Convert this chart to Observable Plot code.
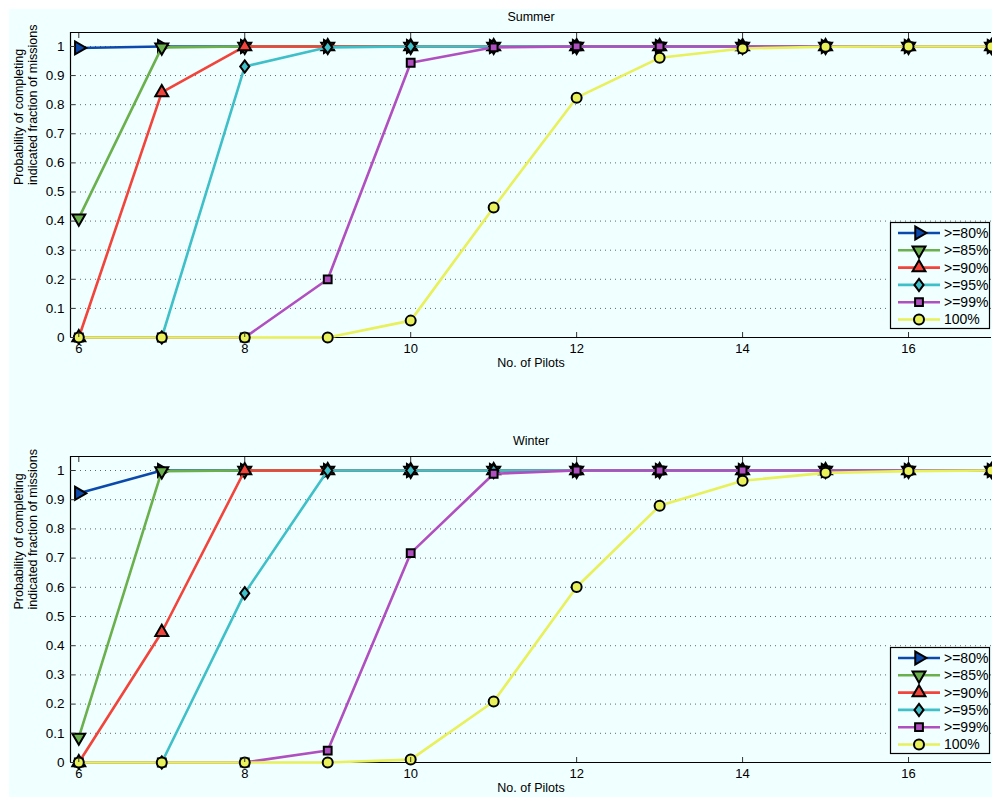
<!DOCTYPE html>
<html><head><meta charset="utf-8">
<script src="https://cdn.jsdelivr.net/npm/d3@7"></script>
<script src="https://cdn.jsdelivr.net/npm/@observablehq/plot@0.6"></script>
<style>
body{margin:0;background:#fff;}
#wrap{position:relative;width:992px;height:797px;overflow:hidden;font-family:"Liberation Sans",Arial,sans-serif;}
#bg{position:absolute;left:9px;top:9px;right:0;bottom:0;background:#f0ffff;}
.p{position:absolute;left:0;}
.p svg{background:transparent !important;}
</style></head><body><div id="wrap"><div id="bg"></div></div>
<script>
const pilots = [6,7,8,9,10,11,12,13,14,15,16,17];
const seriesNames = [">=80%", ">=85%", ">=90%", ">=95%", ">=99%", "100%"];
const xTicks = [6,8,10,12,14,16];
const yTicks = [0,0.1,0.2,0.3,0.4,0.5,0.6,0.7,0.8,0.9,1];

// Summer
const summer80  = [0.995,1,1,1,1,1,1,1,1,1,1,1];
const summer85  = [0.41,0.997,1,1,1,1,1,1,1,1,1,1];
const summer90  = [0,0.842,1,1,1,1,1,1,1,1,1,1];
const summer95  = [0,0,0.931,0.997,1,1,1,1,1,1,1,1];
const summer99  = [0,0,0,0.2,0.944,0.997,1,1,1,1,1,1];
const summer100 = [0,0,0,0,0.058,0.447,0.824,0.961,0.993,0.999,1,1];

// Winter
const winter80  = [0.922,1,1,1,1,1,1,1,1,1,1,1];
const winter85  = [0.086,0.998,1,1,1,1,1,1,1,1,1,1];
const winter90  = [0,0.446,1,1,1,1,1,1,1,1,1,1];
const winter95  = [0,0,0.58,1,1,1,1,1,1,1,1,1];
const winter99  = [0,0,0,0.041,0.717,0.989,1,1,1,1,1,1];
const winter100 = [0,0,0,0,0.01,0.209,0.601,0.879,0.965,0.992,0.998,1];

const colors = ["#0b4aac", "#6ab04c", "#f2443a", "#3fbfc8", "#b04fbf", "#e8f05a"];

const sqrt3 = Math.sqrt(3);
function tri(angle){
  return {draw(ctx, size){
    const y = -Math.sqrt(size / (sqrt3 * 3));
    const pts = [[0, y*2], [-sqrt3*y, -y], [sqrt3*y, -y]];
    const c = Math.cos(angle), s = Math.sin(angle);
    pts.forEach(([px,py],k) => {
      const X = px*c - py*s, Y = px*s + py*c;
      k ? ctx.lineTo(X,Y) : ctx.moveTo(X,Y);
    });
    ctx.closePath();
  }};
}
const diamond = {draw(ctx, size){
  const h = Math.sqrt(size / 1.5), w = h * 0.75;
  ctx.moveTo(0, -h); ctx.lineTo(w, 0); ctx.lineTo(0, h); ctx.lineTo(-w, 0); ctx.closePath();
}};
const symbols = [tri(Math.PI/2), tri(Math.PI), tri(0), diamond, d3.symbolSquare, d3.symbolCircle];
const radii = [4.8, 4.8, 4.8, 4.2, 4.4, 5];

const xDomain = [5.9, 17];
const yDomain = [0, 1.048];
const FONT = "'Liberation Sans', Arial, sans-serif";

function panel(title, vals, top, marginBottom, legendTop){
  const marks = [
    Plot.gridY({ticks: yTicks, stroke: "#555", strokeOpacity: 0.9, strokeDasharray: "1,4"}),
    Plot.ruleY([yDomain[0], yDomain[1]], {stroke: "black", strokeWidth: 1.2}),
    Plot.ruleX([xDomain[0]], {stroke: "black", strokeWidth: 1.2})
  ];
  vals.forEach((v, i) => {
    const data = pilots.map((x, j) => ({x, y: v[j]}));
    marks.push(Plot.line(data, {x: "x", y: "y", stroke: colors[i], strokeWidth: 2.6}));
    marks.push(Plot.dot(data, {x: "x", y: "y", symbol: symbols[i], r: radii[i], fill: colors[i], stroke: "black", strokeWidth: 2}));
  });
  marks.push(
    Plot.axisX({ticks: xTicks, anchor: "bottom", tickSize: 5, dy: -5, tickFormat: () => "", label: null, stroke: "#333"}),
    Plot.axisX({ticks: xTicks, anchor: "top", tickSize: 5, dy: 5, tickFormat: () => "", label: null, stroke: "#333"}),
    Plot.axisX({ticks: xTicks, anchor: "bottom", tickSize: 0, tickPadding: 6, label: null, fontSize: 13, tickFormat: d => `${d}`}),
    Plot.axisY({ticks: yTicks, anchor: "left", tickSize: 5, dx: 5, tickFormat: () => "", label: null, stroke: "#333"}),
    Plot.axisY({ticks: yTicks, anchor: "left", tickSize: 0, tickPadding: 6, label: null, fontSize: 13.5, tickFormat: d => `${d}`}),
    Plot.text([title], {frameAnchor: "top", dy: -20, fontSize: 12.5, fill: "black"}),
    Plot.text(["No. of Pilots"], {frameAnchor: "bottom", dy: 29, fontSize: 12.5, fill: "black"}),
    Plot.text(["Probability of completing\nindicated fraction of missions"], {frameAnchor: "left", dx: -45, rotate: -90, fontSize: 12.5, fill: "black", lineHeight: 1.15})
  );
  const chart = Plot.plot({
    width: 992, height: 373,
    marginLeft: 70, marginRight: 1, marginTop: 32, marginBottom,
    style: {background: "transparent", fontFamily: FONT, fontSize: "12px", color: "black", overflow: "visible"},
    x: {domain: xDomain},
    y: {domain: yDomain},
    marks
  });
  const div = document.createElement("div");
  div.className = "p";
  div.style.top = top + "px";
  div.appendChild(chart);
  document.getElementById("wrap").appendChild(div);

  // legend
  const lg = d3.create("svg").attr("width", 992).attr("height", 140)
    .style("position", "absolute").style("left", "0px").style("top", (legendTop) + "px").style("overflow", "visible");
  lg.append("rect").attr("x", 890.5).attr("y", 0.5).attr("width", 99).attr("height", 106)
    .attr("fill", "#f0ffff").attr("stroke", "black").attr("stroke-width", 1.2);
  seriesNames.forEach((name, i) => {
    const cy = 11 + i * 17.3;
    lg.append("line").attr("x1", 898).attr("x2", 940).attr("y1", cy).attr("y2", cy)
      .attr("stroke", colors[i]).attr("stroke-width", 2.6);
    lg.append("path").attr("transform", `translate(919,${cy})`)
      .attr("d", d3.symbol().type(symbols[i]).size(radii[i]*radii[i]*Math.PI)())
      .attr("fill", colors[i]).attr("stroke", "black").attr("stroke-width", 2);
    lg.append("text").attr("x", 944).attr("y", cy).attr("dy", "0.35em")
      .attr("font-size", 14).attr("font-family", FONT).text(name);
  });
  document.getElementById("wrap").appendChild(lg.node());
}

panel("Summer", [summer80, summer85, summer90, summer95, summer99, summer100], 0, 36, 222);
panel("Winter", [winter80, winter85, winter90, winter95, winter99, winter100], 424, 35, 647);
</script>
</body></html>
